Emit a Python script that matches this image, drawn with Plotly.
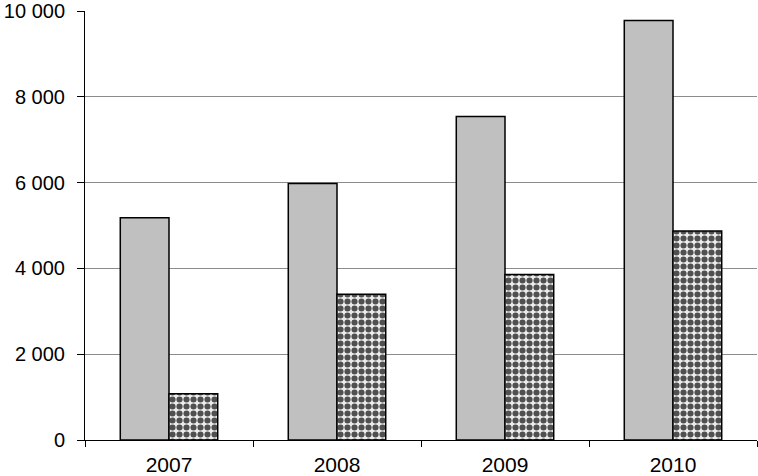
import plotly.graph_objects as go

years = ["2007", "2008", "2009", "2010"]
series_a = [5180, 5980, 7540, 9780]
series_b = [1080, 3400, 3860, 4870]
y_ticks = [0, 2000, 4000, 6000, 8000, 10000]

fig = go.Figure()
fig.add_trace(go.Bar(
    x=years, y=series_a,
    marker=dict(color="#c0c0c0", line=dict(color="#000000", width=1.5)),
))
fig.add_trace(go.Bar(
    x=years, y=series_b,
    marker=dict(
        color="#e8e8e8",
        line=dict(color="#000000", width=1.5),
        pattern=dict(shape=".", fgcolor="#505050", bgcolor="#ececec",
                     size=7, solidity=0.6, fillmode="replace"),
    ),
))

fig.update_layout(
    width=758, height=476,
    margin=dict(l=85, r=1, t=11, b=36, autoexpand=False),
    paper_bgcolor="white", plot_bgcolor="white",
    barmode="group", bargap=0.42, bargroupgap=0,
    showlegend=False,
    separators=", ",
    font=dict(family="Liberation Sans, Arial, sans-serif", size=20, color="#000000"),
)
fig.update_xaxes(
    type="category", tickson="boundaries", ticks="outside", ticklen=6,
    tickcolor="#000000", showline=True, linecolor="#000000", linewidth=1,
    showgrid=False, tickfont=dict(size=21), automargin=False,
    ticklabeloverflow="allow", ticklabelstandoff=6,
)
fig.update_yaxes(
    range=[0, 10000], tickvals=y_ticks, tickformat=",d",
    ticks="outside", ticklen=7, tickcolor="#000000",
    showline=True, linecolor="#000000", linewidth=1,
    showgrid=True, gridcolor="#8c8c8c", gridwidth=1,
    zeroline=False, tickfont=dict(size=20), automargin=False,
    ticklabeloverflow="allow", ticklabelstandoff=8,
)

fig.write_html(
    "out.html",
    config={"displayModeBar": False},
    post_script="document.body.style.margin='0';document.body.style.overflow='hidden';",
)
